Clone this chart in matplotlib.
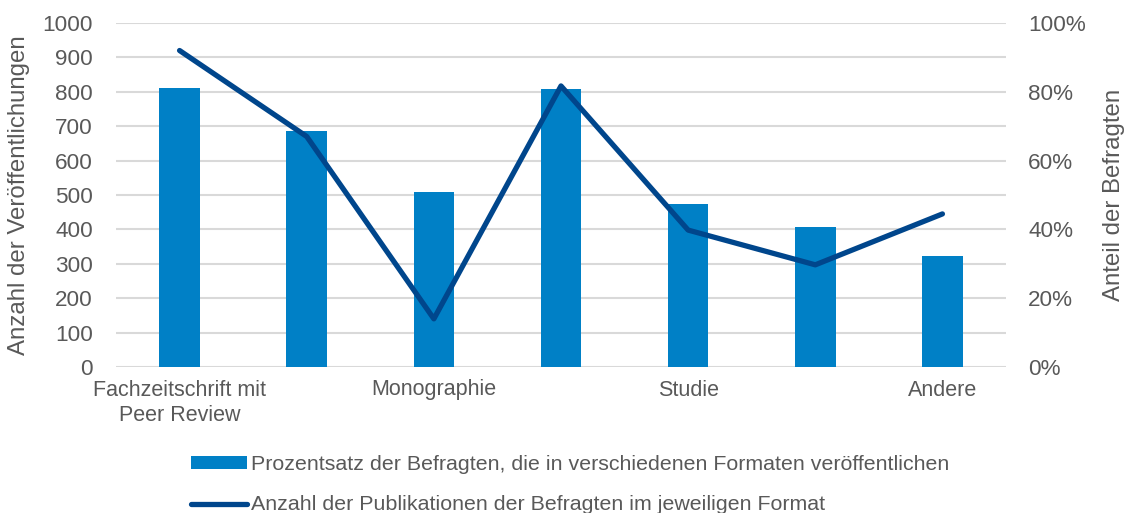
import matplotlib
matplotlib.use("Agg")
import matplotlib.pyplot as plt
from matplotlib.ticker import FuncFormatter, MultipleLocator
from matplotlib.patches import Patch
from matplotlib.lines import Line2D

plt.rcParams['font.family'] = ['Liberation Sans', 'DejaVu Sans']

categories = ["Fachzeitschrift mit\nPeer Review", "Sammelband", "Monographie",
              "Konferenzbeitrag", "Studie", "Bericht", "Andere"]
shown_labels = ["Fachzeitschrift mit\nPeer Review", "", "Monographie", "", "Studie", "", "Andere"]
bar_values = [811, 686, 509, 807, 474, 407, 323]
line_values = [0.92, 0.67, 0.14, 0.817, 0.398, 0.297, 0.445]
bar_label = "Prozentsatz der Befragten, die in verschiedenen Formaten veröffentlichen"
line_label = "Anzahl der Publikationen der Befragten im jeweiligen Format"

bar_color = "#0080C6"
line_color = "#00468C"
text_color = "#595959"
grid_color = "#D9D9D9"
fs_tick = 16.2
fs_cat = 15.5
fs_title = 17.3
fs_leg = 15.4

fig = plt.figure(figsize=(11.28, 5.13), dpi=100)
ax = fig.add_axes([116/1128, 1-367/513, (1006-116)/1128, (367-23)/513])
ax2 = ax.twinx()

x = list(range(len(categories)))
ax.bar(x, bar_values, width=0.32, color=bar_color, zorder=3)
ax.set_ylim(0, 1000)
ax.set_xlim(-0.5, len(categories)-0.5)
ax.yaxis.set_major_locator(MultipleLocator(100))
ax.grid(axis='y', color=grid_color, linewidth=1.5, zorder=0)
ax.set_axisbelow(True)
ax.set_xticks(x)
ax.set_xticklabels(shown_labels, fontsize=fs_cat, color=text_color, linespacing=1.3)
ax.tick_params(axis='both', length=0, labelcolor=text_color)
ax.tick_params(axis='y', labelsize=fs_tick, pad=16.5)
ax.tick_params(axis='x', pad=9)
ax.set_ylabel("Anzahl der Veröffentlichungen", fontsize=fs_title, color=text_color, labelpad=9)

ax2.plot(x, line_values, color=line_color, linewidth=3.8, solid_capstyle='round',
         solid_joinstyle='round', zorder=4)
ax2.set_ylim(0, 1.0)
ax2.yaxis.set_major_locator(MultipleLocator(0.2))
ax2.yaxis.set_major_formatter(FuncFormatter(lambda v, p: f"{v*100:.0f}%"))
ax2.tick_params(axis='y', length=0, labelsize=fs_tick, labelcolor=text_color, pad=16)
ax2.set_ylabel("Anteil der Befragten", fontsize=fs_title, color=text_color, labelpad=12)

for a in (ax, ax2):
    for s in a.spines.values():
        s.set_visible(False)

handles = [Patch(facecolor=bar_color, edgecolor='none'),
           Line2D([0], [0], color=line_color, linewidth=3.8, solid_capstyle='round')]
leg = fig.legend(handles, [bar_label, line_label], loc='upper left',
                 bbox_to_anchor=(191/1128, 1-455/513), frameon=False, fontsize=fs_leg,
                 handlelength=2.6, handletextpad=0.2, labelspacing=1.0, borderpad=0,
                 borderaxespad=0, handleheight=0.5)
for t in leg.get_texts():
    t.set_color(text_color)

fig.savefig("out.png", dpi=100)
